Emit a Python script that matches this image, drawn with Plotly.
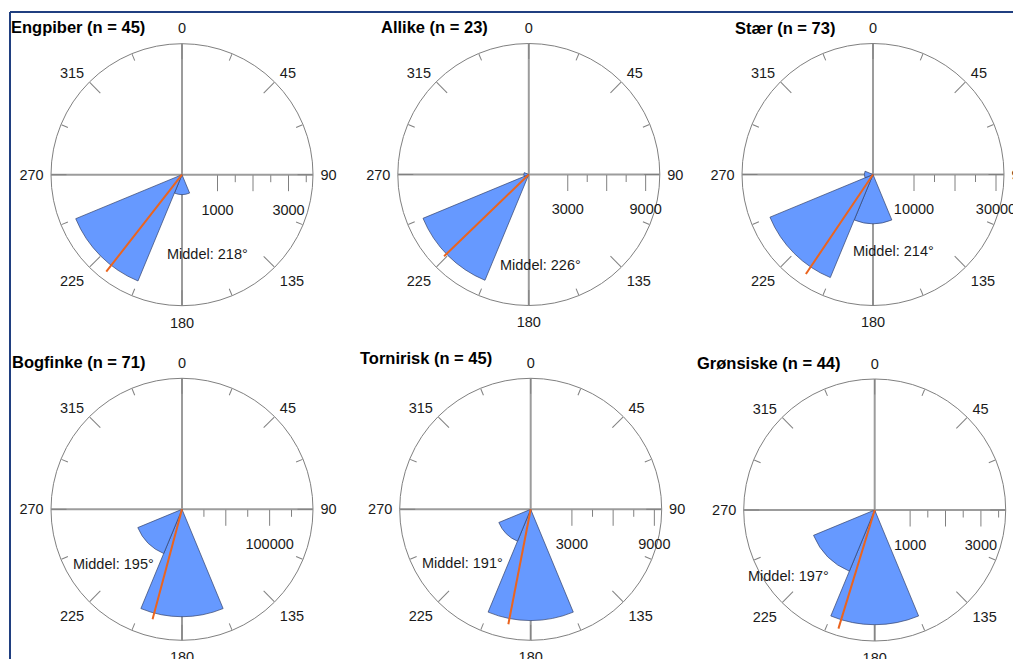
import plotly.graph_objects as go

# ---------------- data ----------------
species = ["Engpiber", "Allike", "Stær", "Bogfinke", "Tornirisk", "Grønsiske"]
n_obs = [45, 23, 73, 71, 45, 44]
bin_dirs = [0, 45, 90, 135, 180, 225, 270, 315]

engpiber = [0, 0, 0, 0, 560, 3240, 0, 0]
allike = [0, 0, 0, 0, 0, 8820, 380, 0]
staer = [0, 0, 0, 0, 12000, 27200, 2100, 0]
bogfinke = [0, 0, 0, 0, 122600, 54600, 0, 0]
tornirisk = [0, 0, 0, 0, 8100, 2510, 0, 0]
gronsiske = [0, 0, 0, 0, 3240, 1870, 0, 0]
bin_values = [engpiber, allike, staer, bogfinke, tornirisk, gronsiske]

mean_dir = [218, 226, 214, 195, 191, 197]
mean_len = [3465, 9070, 29270, 129800, 8525, 3504]
r_max = [3690, 10090, 31950, 149500, 9535, 3700]

long_ticks = [[1000, 2000, 3000], [3000, 6000, 9000], [10000, 20000, 30000],
              [50000, 100000], [3000, 6000, 9000], [1000, 2000, 3000]]
short_ticks = [[1500, 2500, 3500], [4500, 7500], [15000, 25000],
               [25000, 75000, 125000], [4500, 7500], [1500, 2500, 3500]]
label_ticks = [[1000, 3000], [3000, 9000], [10000, 30000],
               [100000], [3000, 9000], [1000, 3000]]

compass_major = [0, 45, 90, 135, 180, 225, 270, 315]
compass_minor = [22.5, 67.5, 112.5, 157.5, 202.5, 247.5, 292.5, 337.5]
cardinal = [0, 90, 180, 270]

# ---------------- layout constants ----------------
# the page body adds an 8px offset; positions below are page pixels
OFF = 8
PAGE_W, PAGE_H = 1021, 659
W, H = PAGE_W - OFF, PAGE_H - OFF
R_PX = 131
centers = [(182, 174.7), (528.8, 174.5), (873, 174.5),
           (182, 509.3), (530.7, 509.3), (874.7, 510)]
title_right = [147, 490, 836.7, 146.7, 494, 843]
title_y = [27.3, 26.7, 28.3, 362.3, 358.3, 363.3]
middel_pos = [(207, 254), (540.5, 265), (893.7, 250.7),
              (113.3, 564), (462, 563.3), (788.3, 576)]


def px(x):
    return (x - OFF) / W


def py(y):
    return 1 - (y - OFF) / H


FONT = "Liberation Sans, Arial, Helvetica, sans-serif"
TXT = "#1a1a1a"
GRAY = "#808080"
GRID = "#9c9c9c"
FILL = "#6699FF"
EDGE = "#34426a"
ORANGE = "#EB641E"
TRANSP = "rgba(0,0,0,0)"

fig = go.Figure()
layout = dict(width=W, height=H, margin=dict(l=0, r=0, t=0, b=0),
              paper_bgcolor="white", showlegend=False,
              font=dict(family=FONT, size=14.5, color=TXT))
annotations = []


def pname(idx):
    return "polar" if idx == 1 else f"polar{idx}"


for i, sp in enumerate(species):
    cx, cy = centers[i]
    dom = dict(x=[px(cx - R_PX), px(cx + R_PX)],
               y=[py(cy + R_PX), py(cy - R_PX)])
    ids = [4 * i + k + 1 for k in range(4)]
    rr = [0, r_max[i]]
    ang_common = dict(rotation=90, direction="clockwise", thetaunit="degrees")

    # P1: bars, mean line, cross, circle, long radial ticks
    layout[pname(ids[0])] = dict(
        domain=dom, bgcolor="white",
        angularaxis=dict(**ang_common, tickmode="array", tickvals=cardinal,
                         showticklabels=False, ticks="", showgrid=True,
                         gridcolor=GRID, gridwidth=1.5, showline=True,
                         linecolor=GRAY, linewidth=1),
        radialaxis=dict(range=rr, angle=0, side="clockwise", tickmode="array",
                        tickvals=long_ticks[i], ticks="outside", ticklen=16,
                        tickcolor=GRAY, tickwidth=1, showticklabels=False,
                        showline=False, showgrid=False))
    # P2: long compass ticks, short radial ticks
    layout[pname(ids[1])] = dict(
        domain=dom, bgcolor=TRANSP,
        angularaxis=dict(**ang_common, tickmode="array", tickvals=compass_major,
                         ticks="inside", ticklen=15, tickcolor=GRAY, tickwidth=1,
                         showticklabels=False, showgrid=False, showline=False),
        radialaxis=dict(range=rr, angle=0, side="clockwise", tickmode="array",
                        tickvals=short_ticks[i], ticks="outside", ticklen=7,
                        tickcolor=GRAY, tickwidth=1, showticklabels=False,
                        showline=False, showgrid=False))
    # P3: short compass ticks, radial labels
    layout[pname(ids[2])] = dict(
        domain=dom, bgcolor=TRANSP,
        angularaxis=dict(**ang_common, tickmode="array", tickvals=compass_minor,
                         ticks="inside", ticklen=7, tickcolor=GRAY, tickwidth=1,
                         showticklabels=False, showgrid=False, showline=False),
        radialaxis=dict(range=rr, angle=0, side="clockwise", tickmode="array",
                        tickvals=label_ticks[i],
                        ticktext=[str(v) for v in label_ticks[i]],
                        ticks="outside", ticklen=22, tickcolor=TRANSP,
                        showticklabels=True, tickangle=0,
                        tickfont=dict(family=FONT, size=14.5, color=TXT),
                        showline=False, showgrid=False))
    # P4: compass labels
    layout[pname(ids[3])] = dict(
        domain=dom, bgcolor=TRANSP,
        angularaxis=dict(**ang_common, tickmode="array", tickvals=compass_major,
                         ticktext=[str(v) for v in compass_major],
                         ticks="outside", ticklen=4, tickcolor=TRANSP,
                         showticklabels=True,
                         tickfont=dict(family=FONT, size=14.5, color=TXT),
                         showgrid=False, showline=False),
        radialaxis=dict(range=rr, visible=False))

    vals = bin_values[i]
    th = [d for d, v in zip(bin_dirs, vals) if v > 0]
    rv = [v for v in vals if v > 0]
    fig.add_trace(go.Barpolar(r=rv, theta=th, width=[45] * len(rv),
                              marker=dict(color=FILL, line=dict(color=EDGE, width=0.7)),
                              subplot=pname(ids[0]), hoverinfo="skip"))
    fig.add_trace(go.Scatterpolar(r=[0, mean_len[i]], theta=[mean_dir[i], mean_dir[i]],
                                  mode="lines", line=dict(color=ORANGE, width=2),
                                  subplot=pname(ids[0]), hoverinfo="skip"))
    for k in range(1, 4):
        fig.add_trace(go.Scatterpolar(r=[0], theta=[0], mode="markers",
                                      marker=dict(opacity=0, size=1),
                                      subplot=pname(ids[k]), hoverinfo="skip"))

    annotations.append(dict(text=f"<b>{sp} (n = {n_obs[i]})</b>", xref="paper", yref="paper",
                            x=px(title_right[i]), y=py(title_y[i]),
                            xanchor="right", yanchor="middle", showarrow=False,
                            font=dict(family=FONT, size=16.5, color="black")))
    mx, my = middel_pos[i]
    annotations.append(dict(text=f"Middel: {mean_dir[i]}°", xref="paper", yref="paper",
                            x=px(mx), y=py(my), xanchor="center", yanchor="middle",
                            showarrow=False, font=dict(family=FONT, size=14.5, color=TXT)))

layout["annotations"] = annotations
layout["shapes"] = [
    dict(type="line", xref="paper", yref="paper", x0=px(10), x1=1.0, y0=py(12), y1=py(12),
         line=dict(color="#203f80", width=2)),
    dict(type="line", xref="paper", yref="paper", x0=px(10), x1=px(10), y0=py(12), y1=0,
         line=dict(color="#203f80", width=2)),
]
fig.update_layout(**layout)
fig.write_html("out.html")
